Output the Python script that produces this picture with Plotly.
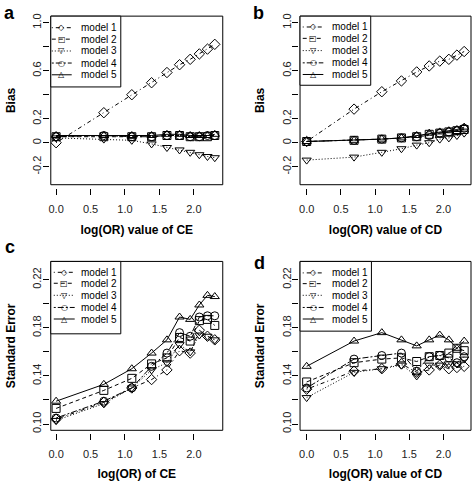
import plotly.graph_objects as go

W, H = 472, 481

# ---------------- data ----------------
log_or = [0.0, 0.693, 1.099, 1.386, 1.609, 1.792, 1.946, 2.079, 2.197, 2.303]
model_names = ["model 1", "model 2", "model 3", "model 4", "model 5"]

bias_ce = {
    "model 1": [0.00, 0.25, 0.40, 0.50, 0.585, 0.65, 0.695, 0.74, 0.78, 0.82],
    "model 2": [0.05, 0.05, 0.05, 0.05, 0.06, 0.06, 0.05, 0.05, 0.05, 0.06],
    "model 3": [0.04, 0.03, 0.02, -0.01, -0.04, -0.06, -0.08, -0.10, -0.115, -0.125],
    "model 4": [0.05, 0.06, 0.05, 0.05, 0.06, 0.06, 0.05, 0.05, 0.06, 0.06],
    "model 5": [0.06, 0.06, 0.06, 0.06, 0.07, 0.07, 0.06, 0.06, 0.06, 0.07],
}
bias_cd = {
    "model 1": [0.01, 0.28, 0.425, 0.515, 0.59, 0.64, 0.68, 0.695, 0.73, 0.76],
    "model 2": [0.01, 0.02, 0.03, 0.04, 0.05, 0.07, 0.08, 0.09, 0.10, 0.11],
    "model 3": [-0.145, -0.12, -0.08, -0.05, -0.02, 0.00, 0.03, 0.04, 0.06, 0.08],
    "model 4": [0.01, 0.02, 0.03, 0.04, 0.05, 0.06, 0.08, 0.09, 0.10, 0.12],
    "model 5": [0.01, 0.02, 0.03, 0.04, 0.06, 0.08, 0.09, 0.10, 0.11, 0.13],
}
se_ce = {
    "model 1": [0.104, 0.118, 0.130, 0.137, 0.145, 0.161, 0.159, 0.178, 0.173, 0.170],
    "model 2": [0.113, 0.128, 0.138, 0.150, 0.155, 0.172, 0.169, 0.186, 0.187, 0.182],
    "model 3": [0.103, 0.117, 0.130, 0.145, 0.151, 0.166, 0.160, 0.174, 0.173, 0.170],
    "model 4": [0.105, 0.119, 0.130, 0.148, 0.159, 0.176, 0.173, 0.189, 0.190, 0.190],
    "model 5": [0.119, 0.133, 0.146, 0.159, 0.170, 0.189, 0.187, 0.199, 0.207, 0.206],
}
se_cd = {
    "model 1": [0.129, 0.144, 0.146, 0.150, 0.143, 0.145, 0.149, 0.146, 0.147, 0.148],
    "model 2": [0.135, 0.151, 0.154, 0.155, 0.152, 0.156, 0.157, 0.159, 0.163, 0.161],
    "model 3": [0.122, 0.143, 0.146, 0.149, 0.140, 0.149, 0.149, 0.150, 0.150, 0.154],
    "model 4": [0.130, 0.154, 0.157, 0.159, 0.144, 0.156, 0.157, 0.155, 0.151, 0.156],
    "model 5": [0.148, 0.169, 0.176, 0.170, 0.165, 0.170, 0.174, 0.170, 0.163, 0.169],
}

x_tickvals = [0.0, 0.5, 1.0, 1.5, 2.0]
x_ticktext = ["0.0", "0.5", "1.0", "1.5", "2.0"]
bias_tickvals = [-0.2, 0.0, 0.2, 0.4, 0.6, 0.8, 1.0]
bias_ticktext = ["-0.2", "0", "0.2", "", "0.6", "", "1.0"]
se_tickvals = [0.10, 0.12, 0.14, 0.16, 0.18, 0.20, 0.22]
se_ticktext = ["0.10", "", "0.14", "", "0.18", "", "0.22"]

# ---------------- styles ----------------
symbols = {"model 1": "diamond-open", "model 2": "square-open", "model 3": "triangle-down-open",
           "model 4": "circle-open", "model 5": "triangle-up-open"}
dashes = {"model 1": "1px,3px,4px,3px", "model 2": "4px,3px", "model 3": "1px,2px",
          "model 4": "2px,2px,6px,2px", "model 5": "solid"}
glyphs = {"model 1": "◇", "model 2": "□", "model 3": "▽", "model 4": "○", "model 5": "△"}

FONT = "Liberation Sans, Arial, Helvetica, sans-serif"

def px_x(p):
    return p / W

def px_y(p):
    return 1 - p / H

panels = [
    dict(data=bias_ce, xd=(49, 221.7), yd=(13.3, 184), xr=[-0.077, 2.419], yr=[-0.35, 1.055],
         ytv=bias_tickvals, ytt=bias_ticktext, xt="log(OR) value of CE", yt="Bias",
         lab="a", labpos=(8, 10),
         leg=dict(box=(49, 13.3, 119.3, 85), ys=[25, 36.6, 48.6, 60.8, 72.7], lx=(50, 70), tx=77)),
    dict(data=bias_cd, xd=(299.3, 471), yd=(13.3, 184), xr=[-0.097, 2.403], yr=[-0.35, 1.055],
         ytv=bias_tickvals, ytt=bias_ticktext, xt="log(OR) value of CD", yt="Bias",
         lab="b", labpos=(258, 10),
         leg=dict(box=(299.3, 13.3, 370.3, 83.3), ys=[24.3, 35.8, 48.2, 60.6, 72.4], lx=(302, 322.7), tx=329.5)),
    dict(data=se_ce, xd=(49, 221.7), yd=(261.7, 432.7), xr=[-0.077, 2.419], yr=[0.0948, 0.2352],
         ytv=se_tickvals, ytt=se_ticktext, xt="log(OR) of CE", yt="Standard Error",
         lab="c", labpos=(8, 247),
         leg=dict(box=(49, 261.7, 119.3, 335), ys=[272.7, 283.8, 296, 308.3, 320], lx=(52, 73), tx=77.5)),
    dict(data=se_cd, xd=(299.3, 471), yd=(261.7, 432.7), xr=[-0.097, 2.403], yr=[0.0948, 0.2352],
         ytv=se_tickvals, ytt=se_ticktext, xt="log(OR) value of CD", yt="Standard Error",
         lab="d", labpos=(259, 263),
         leg=dict(box=(299.3, 261.7, 371, 332.3), ys=[273.3, 284.2, 296, 308.3, 320], lx=(302, 323), tx=329.5)),
]

fig = go.Figure()
shapes = []
annotations = []
layout_axes = {}

for i, p in enumerate(panels):
    n = i + 1
    xa = "x" if n == 1 else f"x{n}"
    ya = "y" if n == 1 else f"y{n}"
    xkey = "xaxis" if n == 1 else f"xaxis{n}"
    ykey = "yaxis" if n == 1 else f"yaxis{n}"

    for m in model_names:
        fig.add_trace(go.Scatter(
            x=log_or, y=p["data"][m], mode="lines+markers", name=m, showlegend=False,
            xaxis=xa, yaxis=ya,
            line=dict(color="black", width=1, dash=dashes[m]),
            marker=dict(symbol=symbols[m], size=8, color="black", line=dict(width=1, color="black")),
        ))

    xdom = [px_x(p["xd"][0]), px_x(p["xd"][1])]
    ydom = [px_y(p["yd"][1]), px_y(p["yd"][0])]

    layout_axes[xkey] = dict(
        domain=xdom, range=p["xr"], anchor="free", position=max(0, ydom[0] - 3 / H),
        showgrid=False, zeroline=False, showline=False,
        tickmode="array", tickvals=x_tickvals, ticktext=x_ticktext,
        ticks="outside", ticklen=6, tickwidth=1, tickcolor="black",
        ticklabelstandoff=5,
        tickfont=dict(family=FONT, size=11, color="#222"),
        title=dict(text=p["xt"], font=dict(family=FONT, size=12, color="black", weight="bold"), standoff=11),
    )
    layout_axes[ykey] = dict(
        domain=ydom, range=p["yr"], anchor="free", position=max(0, xdom[0] - 2 / W),
        showgrid=False, zeroline=False, showline=False,
        tickmode="array", tickvals=p["ytv"], ticktext=p["ytt"],
        ticks="outside", ticklen=6, tickwidth=1, tickcolor="black", tickangle=-90,
        ticklabelstandoff=-3,
        tickfont=dict(family=FONT, size=11, color="#222"),
        title=dict(text=p["yt"], font=dict(family=FONT, size=12, color="black", weight="bold"), standoff=12),
    )

    shapes.append(dict(type="rect", xref=f"{xa} domain", yref=f"{ya} domain", x0=0, x1=1, y0=0, y1=1,
                       line=dict(color="black", width=1), layer="above"))

    annotations.append(dict(text=f"<b>{p['lab']}</b>", xref="paper", yref="paper",
                            x=px_x(p["labpos"][0]), y=px_y(p["labpos"][1]), showarrow=False,
                            xanchor="center", yanchor="middle",
                            font=dict(family=FONT, size=18, color="black")))

    lg = p["leg"]
    bx0, by0, bx1, by1 = lg["box"]
    shapes.append(dict(type="rect", xref="paper", yref="paper",
                       x0=px_x(bx0), x1=px_x(bx1), y0=px_y(by1), y1=px_y(by0),
                       line=dict(color="black", width=1), fillcolor="white", layer="above"))
    for m, yy in zip(model_names, lg["ys"]):
        shapes.append(dict(type="line", xref="paper", yref="paper",
                           x0=px_x(lg["lx"][0]), x1=px_x(lg["lx"][1]), y0=px_y(yy), y1=px_y(yy),
                           line=dict(color="black", width=1, dash=dashes[m]), layer="above"))
        annotations.append(dict(text=glyphs[m], xref="paper", yref="paper",
                                x=px_x((lg["lx"][0] + lg["lx"][1]) / 2), y=px_y(yy), showarrow=False,
                                xanchor="center", yanchor="middle", bgcolor="rgba(0,0,0,0)",
                                font=dict(family="DejaVu Sans", size=8, color="black")))
        annotations.append(dict(text=m, xref="paper", yref="paper",
                                x=px_x(lg["tx"]), y=px_y(yy), showarrow=False,
                                xanchor="left", yanchor="middle",
                                font=dict(family=FONT, size=10, color="black")))

fig.update_layout(
    width=W, height=H,
    margin=dict(l=0, r=0, t=0, b=0),
    paper_bgcolor="white", plot_bgcolor="white",
    showlegend=False,
    shapes=shapes, annotations=annotations,
    font=dict(family=FONT, color="black"),
    **layout_axes,
)

fig.write_html(
    "out.html",
    config={"displayModeBar": False},
    post_script="document.body.style.margin='0';document.body.style.overflow='hidden';",
)
